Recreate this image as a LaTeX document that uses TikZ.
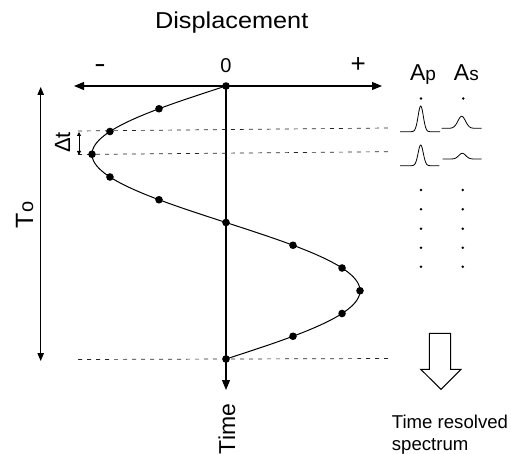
\documentclass[tikz,border=0pt]{standalone}
\usepackage{fontspec}
\setmainfont{Liberation Sans}
\usetikzlibrary{arrows.meta}
\begin{document}
\begin{tikzpicture}[x=1pt,y=-1pt,
  axisline/.style={line width=1.1pt},
  sine/.style={line width=1pt},
  bigdot/.style={circle,fill=black,inner sep=0pt,minimum size=7.6pt},
  smalldot/.style={circle,fill=black,inner sep=0pt,minimum size=2.8pt},
  guide/.style={dash pattern=on 4pt off 5pt,line width=0.7pt,black!85},
  bigtip/.style={-{Triangle[length=10pt,width=8pt]}},
  dbltip/.style={{Triangle[length=8pt,width=6.5pt]}-{Triangle[length=8pt,width=6.5pt]}},
  smalltip/.style={{Triangle[length=4pt,width=4pt]}-{Triangle[length=4pt,width=4pt]}},
  peak/.style={line width=0.8pt},
  txt/.style={inner sep=0pt},
  f20/.style={font=\fontsize{20}{24}\selectfont},
  f23/.style={font=\fontsize{23}{27}\selectfont},
  f18/.style={font=\fontsize{18.6}{22}\selectfont}]
\useasboundingbox (0,0) rectangle (511,454);

% axes
\coordinate (O) at (226,86);
\coordinate (L) at (74,86);
\coordinate (R) at (382,86);
\coordinate (B) at (226,390);
\draw[axisline,bigtip] (O) -- (L);
\draw[axisline,bigtip] (O) -- (R);
\draw[axisline,bigtip] (O) -- (B);

% labels on axis
\node[txt,f23] (disp) at (231.7,23) {\scalebox{1.1}[1]{Displacement}};
\node[txt,f20,anchor=base] (zero) at (226,72.7) {0};
\node[txt,f20,anchor=base] (minus) at (100,72.7) {\scalebox{1.7}[1.3]{-}};
\node[txt,f20,anchor=base] (plus) at (358.3,72.7) {\scalebox{1.3}{+}};
\node[txt,f23,rotate=90] (time) at (227,429) {Time};

% guides
\coordinate (g1l) at (78,131);
\coordinate (g1r) at (388,128);
\coordinate (g2l) at (78,154.5);
\coordinate (g2r) at (388,151.7);
\coordinate (g3l) at (78,359.5);
\coordinate (g3r) at (389,358.5);
\draw[guide] (g1l) -- (g1r);
\draw[guide] (g2l) -- (g2r);
\draw[guide] (g3l) -- (g3r);

% sine curve and sample dots
\draw[sine] plot[domain=0:360,samples=121,smooth] ({226-134*sin(\x)},{86+0.758333*\x});
\foreach \k in {0,...,12}
  \node[bigdot] (d\k) at ({226-134*sin(30*\k)},{86+22.75*\k}) {};

% delta t
\coordinate (dt1) at (79,132);
\coordinate (dt2) at (79,155);
\draw[line width=0.8pt,smalltip] (dt1) -- (dt2);
\node[txt,font=\fontsize{22}{26}\selectfont,rotate=90,anchor=base] (dtl) at (70,142.5) {Δt};

% period T0
\coordinate (p1) at (40.7,87);
\coordinate (p2) at (40.7,361);
\draw[line width=0.9pt,dbltip] (p1) -- (p2);
\node[txt,rotate=90,anchor=base,font=\fontsize{25}{29}\selectfont] (tl) at (33,215) {T{\fontsize{20}{24}\selectfont o}};

% spectrum labels
\node[txt,f23,anchor=base] (ap) at (423,81) {A{\fontsize{19}{23}\selectfont p}};
\node[txt,f23,anchor=base] (as) at (466.4,81) {A{\fontsize{19}{23}\selectfont s}};
\node[smalldot] (apd0) at (421,98.5) {};
\node[smalldot] (asd0) at (463.3,98.5) {};

% peaks
\draw[peak] plot[domain=400:440,samples=81,smooth] (\x,{131.7-25.7*exp(max(-12,-((\x-420.7)/2.6)^2/2))});
\draw[peak] plot[domain=441.7:481.7,samples=81,smooth] (\x,{128.3-12*exp(max(-12,-((\x-461.7)/3.8)^2/2))});
\draw[peak] plot[domain=400:439.3,samples=81,smooth] (\x,{165.7-20.7*exp(max(-12,-((\x-420.7)/2.6)^2/2))});
\draw[peak] plot[domain=442.7:481.7,samples=81,smooth] (\x,{159-5.7*exp(max(-12,-((\x-462.3)/3.5)^2/2))});

% dotted columns
\foreach \i/\y in {1/190,2/209.3,3/228.7,4/247.7,5/266.7} {
  \node[smalldot] (apd\i) at (421,\y) {};
  \node[smalldot] (asd\i) at (462.7,\y) {};
}

% hollow arrow
\draw[line width=1pt,fill=white] (429.3,333.3) -- (450.7,333.3) -- (450.7,369.3) -- (461,369.3) -- (441,389.3) -- (420.7,369.3) -- (429.3,369.3) -- cycle;

\node[txt,f18,anchor=base west] (tr1) at (391.7,428) {Time resolved};
\node[txt,f18,anchor=base west] (tr2) at (391.7,450) {spectrum};
\end{tikzpicture}
\end{document}
